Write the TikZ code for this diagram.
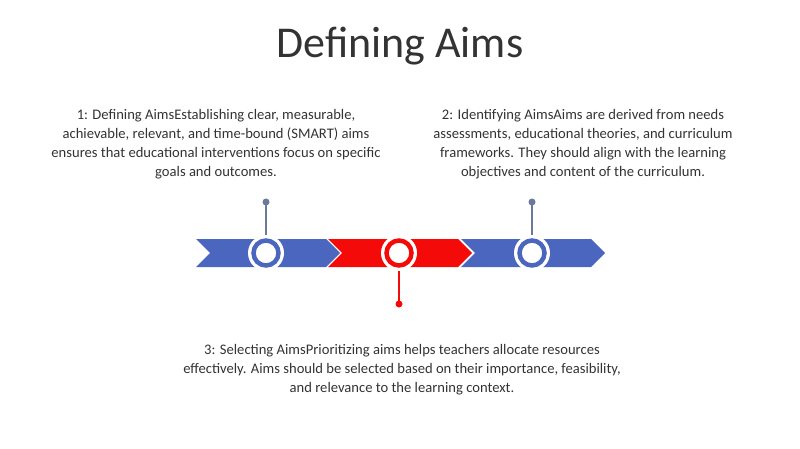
\documentclass[tikz,border=0pt]{standalone}
\usepackage{fontspec}
\setmainfont{Carlito}
\definecolor{bl}{HTML}{4A66BE}
\definecolor{rd}{HTML}{F50A0A}
\definecolor{ln}{HTML}{6A7A9A}
\definecolor{tx}{HTML}{333333}
\begin{document}
\begin{tikzpicture}[x=1pt,y=-1pt,
  txt/.style={font=\fontsize{14.6}{19}\selectfont,text=tx,align=center},
]
\useasboundingbox (0,0) rectangle (800,449);
\node[font=\fontsize{44}{46}\selectfont,text=tx] (title) at (400,46) {Defining Aims};
\foreach \x/\c in {196/bl,328/rd,461/bl}{
  \fill[\c] (\x,239) -- (\x+130,239) -- (\x+144,253) -- (\x+130,267) -- (\x,267) -- (\x+14,253) -- cycle;
}
\coordinate (a) at (266,253); \coordinate (b) at (399,253); \coordinate (c) at (532,253);
\coordinate (da) at (266,202); \coordinate (dc) at (532,202); \coordinate (db) at (399,304);
\draw[ln,line width=1.2pt] (da) -- (a);
\draw[ln,line width=1.2pt] (dc) -- (c);
\draw[rd,line width=1.2pt] (db) -- (b);
\foreach \n/\c in {a/bl,b/rd,c/bl}{
  \fill[white] (\n) circle (18);
  \draw[\c,line width=4.5pt,fill=white] (\n) circle (12.5);
}
\fill[ln] (da) circle (3.5); \fill[ln] (dc) circle (3.5); \fill[rd] (db) circle (3.5);
\node[txt] (t1) at (216,144) {1: Defining AimsEstablishing clear, measurable,\\achievable, relevant, and time-bound (SMART) aims\\ensures that educational interventions focus on specific\\goals and outcomes.};
\node[txt] (t2) at (583,144) {2: Identifying AimsAims are derived from needs\\assessments, educational theories, and curriculum\\frameworks. They should align with the learning\\objectives and content of the curriculum.};
\node[txt] (t3) at (402,370) {3: Selecting AimsPrioritizing aims helps teachers allocate resources\\effectively. Aims should be selected based on their importance, feasibility,\\and relevance to the learning context.};
\end{tikzpicture}
\end{document}
